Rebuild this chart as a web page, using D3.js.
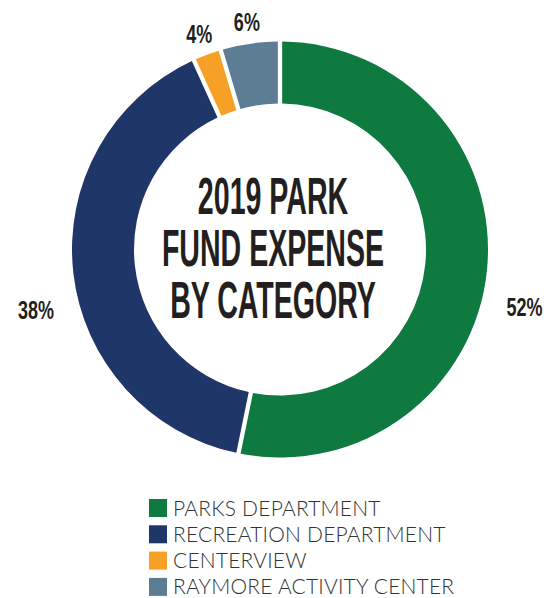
<!DOCTYPE html>
<html>
<head>
<meta charset="utf-8">
<script src="https://cdn.jsdelivr.net/npm/d3@7"></script>
<style>
  body { margin: 0; background: #fff; }
  svg { display: block; }
</style>
</head>
<body>
<div id="chart"></div>
<script>
// categories and slice sizes (share of the ring)
const categories = ["PARKS DEPARTMENT", "RECREATION DEPARTMENT", "CENTERVIEW", "RAYMORE ACTIVITY CENTER"]
const shares = [53.2, 40.0, 2.2, 4.6]
const shareLabels = ["52%", "38%", "4%", "6%"]
const colors = ["#0f7a40", "#1f3668", "#f6a125", "#5c7d94"]
const titleLines = ["2019 PARK", "FUND EXPENSE", "BY CATEGORY"]

const width = 547, height = 598
const cx = 280, cy = 249.5
const outerR = 208, innerR = 146

const svg = d3.select("#chart").append("svg")
    .attr("width", width)
    .attr("height", height)

const pie = d3.pie().sort(null).value(d => d.value)
const arcs = pie(categories.map((c, i) => ({name: c, value: shares[i], label: shareLabels[i], color: colors[i]})))

const arc = d3.arc().innerRadius(innerR).outerRadius(outerR).padAngle(0.017)

const ring = svg.append("g").attr("transform", `translate(${cx},${cy})`)

ring.selectAll("path")
    .data(arcs)
    .enter()
    .append("path")
    .attr("d", arc)
    .attr("fill", d => d.data.color)

// percentage labels outside the ring
ring.selectAll("text.pct")
    .data(arcs)
    .enter()
    .append("text")
    .attr("class", "pct")
    .attr("transform", d => {
        let mid = (d.startAngle + d.endAngle) / 2
        let side = Math.abs(Math.sin(mid)) ** 4
        // side labels sit further out and lower in the original
        let r = 230 + 16 * side
        let x = r * Math.sin(mid)
        let y = -r * Math.cos(mid) + 34 * side
        return `translate(${x},${y}) scale(0.72,1)`
    })
    .attr("text-anchor", "middle")
    .attr("dy", "0.36em")
    .style("font-family", "'Liberation Sans Narrow', 'Liberation Sans', sans-serif")
    .style("font-weight", "bold")
    .style("font-size", "25px")
    .style("fill", "#231f20")
    .text(d => d.data.label)

// title in the hole
const title = svg.append("g")
    .attr("transform", `translate(273,${cy - 2}) scale(0.56,1)`)

title.selectAll("text")
    .data(titleLines)
    .enter()
    .append("text")
    .attr("text-anchor", "middle")
    .attr("y", (d, i) => (i - 1) * 52)
    .attr("dy", "0.36em")
    .style("font-family", "'Liberation Sans Narrow', 'Liberation Sans', sans-serif")
    .style("font-weight", "bold")
    .style("font-size", "51px")
    .style("fill", "#231f20")
    .text(d => d)

// legend
const legend = svg.append("g").attr("transform", "translate(149,499)")

const rows = legend.selectAll("g")
    .data(arcs)
    .enter()
    .append("g")
    .attr("transform", (d, i) => `translate(0,${i * 26.3})`)

rows.append("rect")
    .attr("width", 18)
    .attr("height", 18)
    .attr("fill", d => d.data.color)

rows.append("text")
    .attr("x", 24)
    .attr("y", 9)
    .attr("dy", "0.36em")
    .style("font-family", "Lato, sans-serif")
    .style("font-weight", 300)
    .style("font-size", "21px")
    .style("letter-spacing", "0.2px")
    .style("fill", "#333")
    .text(d => d.data.name)
</script>
</body>
</html>
